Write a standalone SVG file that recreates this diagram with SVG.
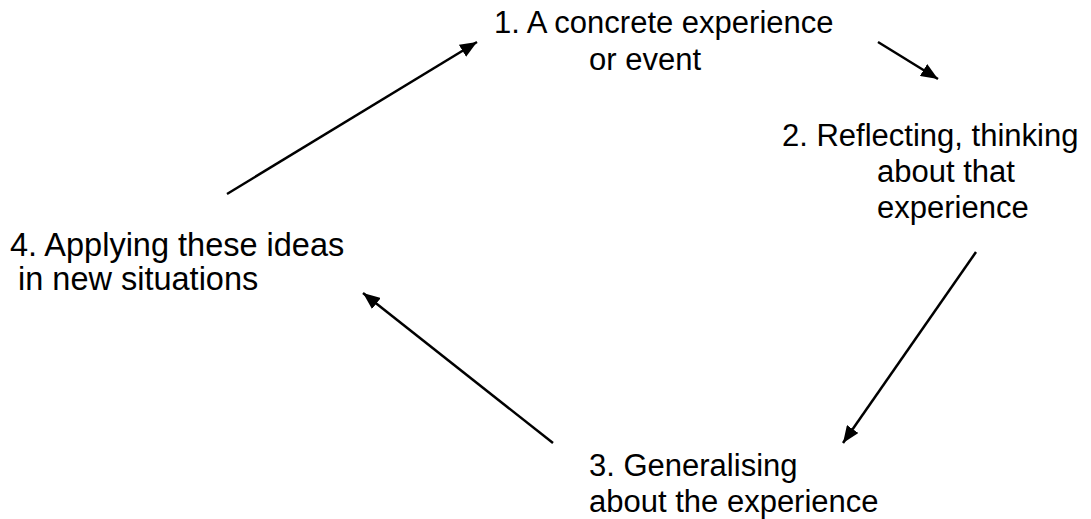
<svg xmlns="http://www.w3.org/2000/svg" width="1091" height="519" viewBox="0 0 1091 519">
  <style>
    .lbl { font-family: "Liberation Sans", Arial, sans-serif; font-size: 31px; fill: #000; }
    .big { font-size: 32.5px; }
    .conn { stroke: #000; stroke-width: 2.5; fill: none; marker-end: url(#arrow); }
  </style>
  <defs>
    <marker id="arrow" markerUnits="userSpaceOnUse" markerWidth="18" markerHeight="14" refX="17" refY="7" orient="auto">
      <path d="M0,0 L17,7 L0,14 z" fill="#000"/>
    </marker>
  </defs>
  <rect width="1091" height="519" fill="#fff"/>
  <g id="connectors">
    <line class="conn" x1="227" y1="194" x2="477" y2="42"/>
    <line class="conn" x1="878" y1="42" x2="938" y2="79"/>
    <line class="conn" x1="976" y1="252" x2="843" y2="443"/>
    <line class="conn" x1="553" y1="443" x2="363" y2="293"/>
  </g>
  <g id="node1">
    <text class="lbl" x="494" y="33">1. A concrete experience</text>
    <text class="lbl" x="589" y="70">or event</text>
  </g>
  <g id="node2">
    <text class="lbl" x="782" y="146">2. Reflecting, thinking</text>
    <text class="lbl" x="877" y="182">about that</text>
    <text class="lbl" x="877" y="218">experience</text>
  </g>
  <g id="node3">
    <text class="lbl" x="589" y="476">3. Generalising</text>
    <text class="lbl" x="589" y="512">about the experience</text>
  </g>
  <g id="node4">
    <text class="lbl big" x="10" y="256">4. Applying these ideas</text>
    <text class="lbl big" x="18" y="290">in new situations</text>
  </g>
</svg>
